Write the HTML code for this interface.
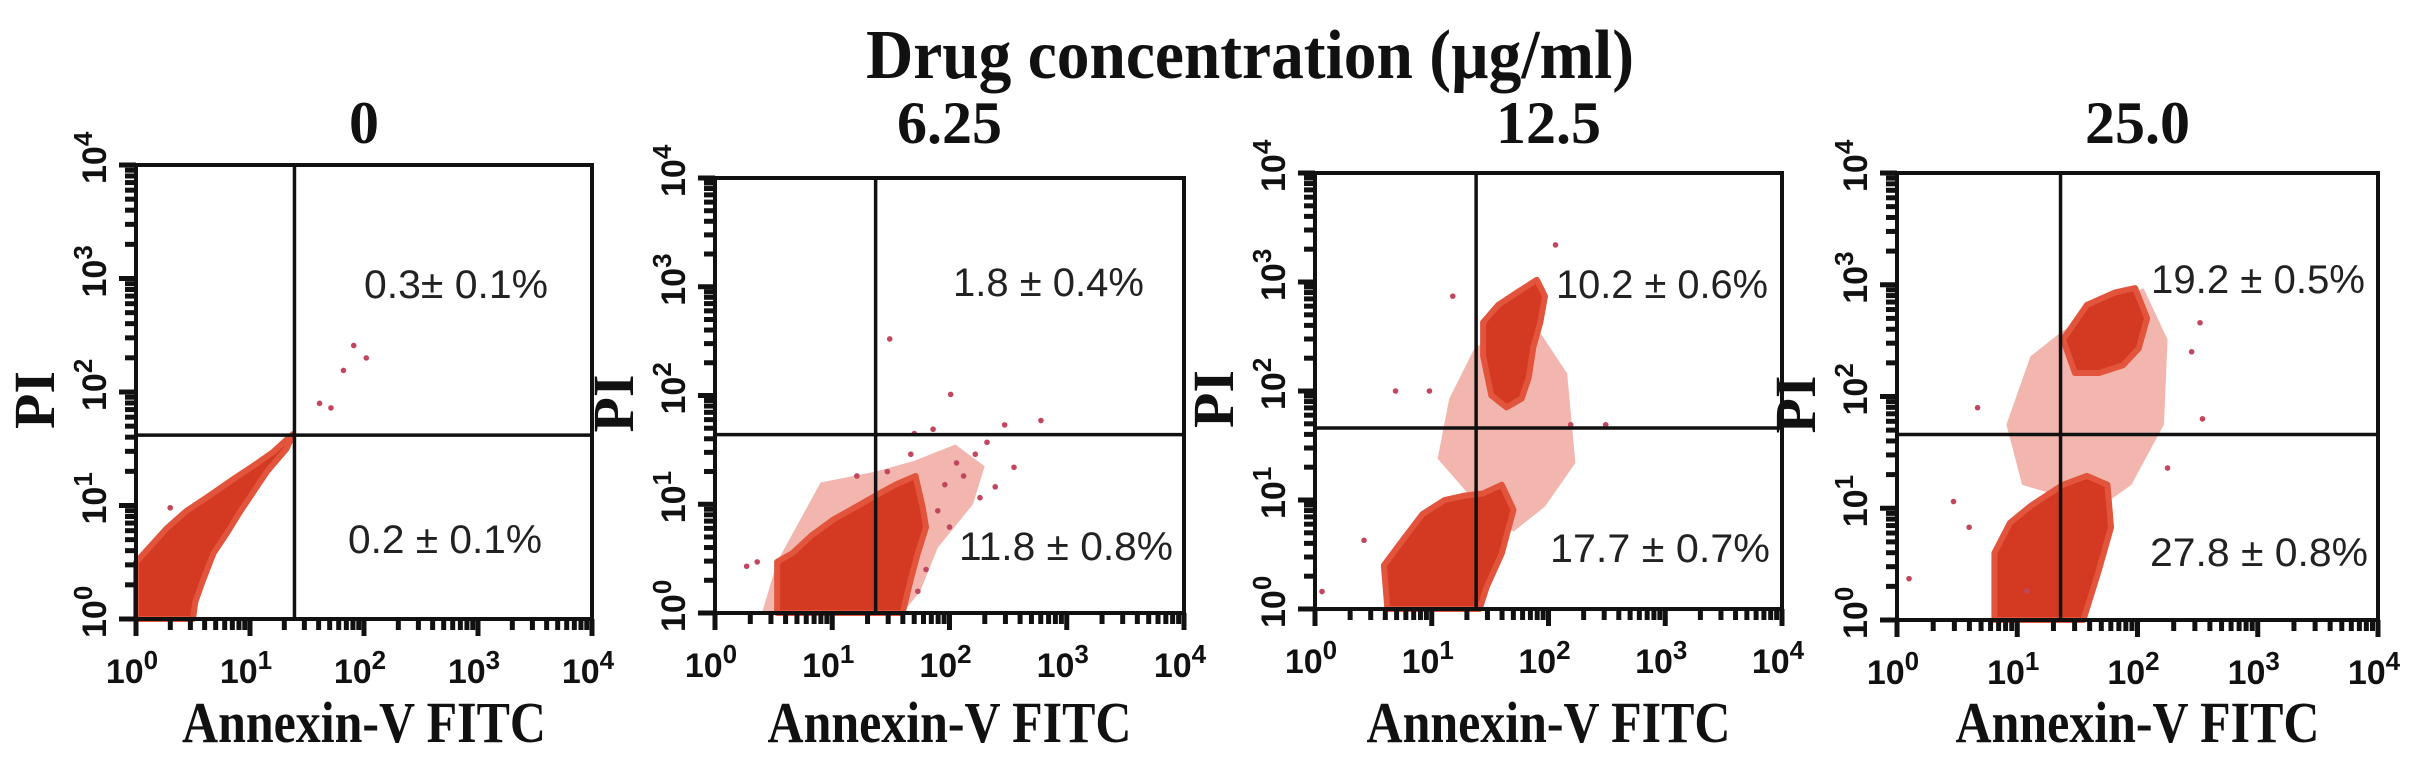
<!DOCTYPE html>
<html><head><meta charset="utf-8"><style>
html,body{margin:0;padding:0;background:#fff;}
svg{display:block;}
.ser{font-family:"Liberation Serif",serif;font-weight:bold;fill:#111;}
.tk{font-family:"Liberation Sans",sans-serif;font-weight:bold;fill:#111;}
.q{font-family:"Liberation Sans",sans-serif;fill:#222;}
</style></head><body>
<svg id="fig" width="2413" height="769" viewBox="0 0 2413 769" xmlns="http://www.w3.org/2000/svg">
<text class="ser" x="1250" y="78" font-size="70" text-anchor="middle" textLength="768" lengthAdjust="spacingAndGlyphs">Drug concentration (µg/ml)</text>
</svg>
<script>
// ---- data (log10 decade units) ----
const concentrations = ["0", "6.25", "12.5", "25.0"];
const upperRightLabels = ["0.3± 0.1%", "1.8 ± 0.4%", "10.2 ± 0.6%", "19.2 ± 0.5%"];
const lowerRightLabels = ["0.2 ± 0.1%", "11.8 ± 0.8%", "17.7 ± 0.7%", "27.8 ± 0.8%"];
const gateX = [1.39, 1.37, 1.38, 1.36];
const gateY = [1.62, 1.64, 1.66, 1.66];
const decadeTicks = [0, 1, 2, 3, 4];
const denseBlobs = [
  [[[0,0],[0,.5],[.09,.6],[.27,.8],[.44,.95],[.62,1.07],[.85,1.23],[1.03,1.35],[1.2,1.47],[1.32,1.58],[1.38,1.63],[1.32,1.5],[1.15,1.3],[1.03,1.12],[.91,.94],[.8,.76],[.68,.58],[.58,.32],[.52,.15],[.5,0]]],
  [[[.53,0],[.53,.47],[.66,.55],[.82,.71],[1.01,.86],[1.21,.98],[1.37,1.08],[1.54,1.18],[1.71,1.26],[1.77,.98],[1.8,.79],[1.73,.55],[1.67,.31],[1.6,0]]],
  [[[.62,0],[.59,.4],[.75,.63],[.92,.87],[1.11,1],[1.28,1.04],[1.44,1.06],[1.6,1.14],[1.7,.91],[1.6,.51],[1.47,.2],[1.41,0]],
   [[1.44,2.63],[1.57,2.79],[1.74,2.91],[1.9,3.02],[1.97,2.87],[1.93,2.63],[1.87,2.4],[1.83,2.12],[1.77,1.93],[1.64,1.85],[1.51,1.96],[1.44,2.32]]],
  [[[.81,0],[.81,.6],[.94,.87],[1.11,1.02],[1.38,1.21],[1.58,1.29],[1.75,1.21],[1.78,.83],[1.68,.45],[1.55,0]],
   [[1.38,2.51],[1.58,2.82],[1.81,2.93],[1.98,2.97],[2.08,2.7],[2.01,2.43],[1.88,2.28],[1.68,2.21],[1.48,2.21]]]
];
const sparseClouds = [
  [],
  [[[.53,.47],[.9,1.2],[1.37,1.3],[1.7,1.4],[2.05,1.55],[2.3,1.35],[2.2,1.0],[1.9,.6],[1.75,.2],[1.6,0],[.4,0]]],
  [[[1.15,1.93],[1.37,2.4],[1.87,2.63],[2.16,2.16],[2.23,1.34],[1.97,.94],[1.7,.71],[1.31,1.06],[1.05,1.38]]],
  [[[.91,1.75],[1.11,2.36],[1.38,2.59],[2.05,2.97],[2.25,2.51],[2.22,1.75],[1.95,1.21],[1.65,.98],[1.38,1.1],[1.04,1.21]]]
];
const sparseX = [
  [1.91,2.02,1.82,1.61,1.71,.30],
  [1.49,2.01,2.78,2.47,2.32,2.55,2.22,2.06,1.86,1.70,1.96,2.12,2.26,2.39,1.90,2.00,1.80,1.73,.27,.36,1.21,1.47,1.67],
  [.69,.98,1.18,2.06,2.49,2.19,.42,.06],
  [.67,.47,.10,2.52,2.45,2.54,2.25,1.08,.60]
];
const sparseY = [
  [2.41,2.30,2.19,1.90,1.86,.98],
  [2.52,2.01,1.77,1.73,1.57,1.34,1.46,1.38,1.69,1.65,1.18,1.26,1.06,1.16,.94,.79,.40,.20,.43,.47,1.26,1.30,1.46],
  [2.00,2.00,2.87,3.34,1.69,1.69,.63,.16],
  [1.90,1.06,.37,2.66,2.40,1.80,1.36,.26,.83]
];
// ---- layout (pixels) ----
const panelBoxes = [
  {l:136,r:592,t:165,b:619},
  {l:715,r:1184,t:178,b:613},
  {l:1315,r:1782,t:173,b:609},
  {l:1897,r:2378,t:173,b:620}
];
const quadX = [[364,548,348,542],[953,1144,959,1173],[1556,1768,1550,1770],[2151,2365,2150,2368]];
const quadBase = [[298,296,298,293],[553,560,562,566]];
const NS = "http://www.w3.org/2000/svg";
const svg = document.getElementById('fig');
function mk(tag, attrs, parent){
  const e = document.createElementNS(NS, tag);
  for (const k in attrs) e.setAttribute(k, attrs[k]);
  (parent||svg).appendChild(e); return e;
}
panelBoxes.forEach((B, i) => {
  const sx = v => B.l + v * (B.r - B.l) / 4;
  const sy = v => B.b - v * (B.b - B.t) / 4;
  const g = mk('g', {});
  
  
  const tt = mk('text', {x:(B.l+B.r)/2, y:143, 'font-size':60, 'text-anchor':'middle', class:'ser'}, g);
  tt.textContent = concentrations[i];
  
  
  sparseClouds[i].forEach(poly => {
    const p = mk('polygon', {points: poly.map(q => sx(q[0]) + ',' + sy(q[1])).join(' '), fill:'#e77a6c', opacity:'0.55'}, g);
    
    
  });
  denseBlobs[i].forEach(poly => {
    const p = mk('polygon', {points: poly.map(q => sx(q[0]) + ',' + sy(q[1])).join(' '), fill:'#d43a22', stroke:'#e2543c', 'stroke-width':6, 'stroke-linejoin':'round'}, g);
    
    
  });
  sparseX[i].forEach((xv, j) => {
    const c = mk('circle', {cx:sx(xv), cy:sy(sparseY[i][j]), r:2.8, fill:'#c2475e'}, g);
    
    
  });
  const fr = mk('rect', {x:B.l, y:B.t, width:B.r-B.l, height:B.b-B.t, fill:'none', stroke:'#111', 'stroke-width':4}, g);
  
  
  const gv = mk('line', {x1:sx(gateX[i]), x2:sx(gateX[i]), y1:B.t, y2:B.b, stroke:'#111', 'stroke-width':3.5}, g);
  
  
  const gh = mk('line', {x1:B.l, x2:B.r, y1:sy(gateY[i]), y2:sy(gateY[i]), stroke:'#111', 'stroke-width':3.5}, g);
  
  
  for (let d = 0; d < 4; d++) {
    for (let m = 1; m <= 9; m++) {
      const v = d + Math.log10(m);
      const len = m === 1 ? 17 : 11;
      mk('line', {x1:B.l, x2:B.l-len, y1:sy(v), y2:sy(v), stroke:'#111', 'stroke-width':5}, g);
      mk('line', {x1:sx(v), x2:sx(v), y1:B.b, y2:B.b+len, stroke:'#111', 'stroke-width':5}, g);
    }
  }
  mk('line', {x1:B.l, x2:B.l-17, y1:B.t, y2:B.t, stroke:'#111', 'stroke-width':5}, g);
  mk('line', {x1:B.r, x2:B.r, y1:B.b, y2:B.b+17, stroke:'#111', 'stroke-width':5}, g);
  decadeTicks.forEach(d => {
    const xt = mk('text', {x:sx(d)-4, y:B.b+64, 'font-size':34, 'text-anchor':'middle', class:'tk'}, g);
    xt.innerHTML = '10<tspan dy="-14" font-size="26">' + d + '</tspan>';
    
    
    const cx = B.l - 42, cy = sy(d);
    const yt = mk('text', {x:0, y:0, 'font-size':34, class:'tk', transform:'translate(' + (cx+12) + ',' + (cy+19) + ') rotate(-90)'}, g);
    yt.innerHTML = '10<tspan dy="-14" font-size="26">' + d + '</tspan>';
    
    
  });
  const xl = mk('text', {x:(B.l+B.r)/2, y:742, 'font-size':58, 'text-anchor':'middle', class:'ser', textLength:364, lengthAdjust:'spacingAndGlyphs'}, g);
  xl.textContent = 'Annexin-V FITC';
  
  
  const yl = mk('text', {x:0, y:0, 'font-size':58, 'text-anchor':'middle', class:'ser', transform:'translate(' + (B.l-82) + ',' + ((B.t+B.b)/2+8) + ') rotate(-90)'}, g);
  yl.textContent = 'PI';
  
  
  const qxs = quadX[i];
  const ur = mk('text', {x:qxs[0], y:quadBase[0][i], 'font-size':40, class:'q', textLength:qxs[1]-qxs[0], lengthAdjust:'spacingAndGlyphs'}, g);
  ur.textContent = upperRightLabels[i];
  
  
  const lr = mk('text', {x:qxs[2], y:quadBase[1][i], 'font-size':40, class:'q', textLength:qxs[3]-qxs[2], lengthAdjust:'spacingAndGlyphs'}, g);
  lr.textContent = lowerRightLabels[i];
  
  
});
</script>
</body></html>
